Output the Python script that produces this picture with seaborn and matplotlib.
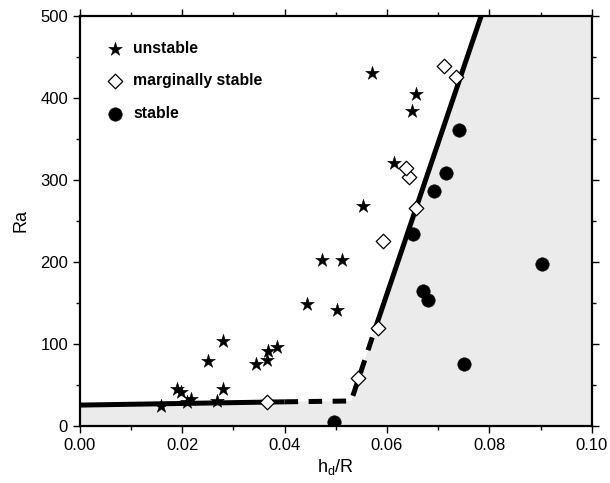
import matplotlib
matplotlib.use("Agg")
import matplotlib.pyplot as plt
import seaborn as sns
import pandas as pd
from matplotlib.ticker import MultipleLocator

# ---- data ----
unstable_x = [0.0158, 0.0189, 0.0197, 0.0209, 0.0217, 0.0250, 0.0267, 0.0280, 0.0280,
              0.0345, 0.0365, 0.0368, 0.0386, 0.0443, 0.0474, 0.0502, 0.0513, 0.0553,
              0.0570, 0.0613, 0.0648, 0.0656]
unstable_y = [24, 45, 42, 29, 32.5, 79, 30.5, 44.7, 103.7,
              75.6, 80.5, 91.5, 96.7, 148.8, 202.4, 141.5, 202.4, 268,
              430, 321, 384.5, 404.5]

marginal_x = [0.0365, 0.0544, 0.0583, 0.0593, 0.0657, 0.0643, 0.0638, 0.0711, 0.0735]
marginal_y = [29, 59, 120, 226, 266, 304, 314, 439, 426]

stable_x = [0.0496, 0.0650, 0.0671, 0.0681, 0.0692, 0.0715, 0.0741, 0.0750, 0.0902]
stable_y = [5, 234, 165, 154, 286, 309, 361, 75, 198]

# stability boundary
solid1_x = [0.0, 0.040]
solid1_y = [25.5, 29.5]
dash_x = [0.040, 0.053, 0.0575]
dash_y = [29.5, 30.5, 115]
solid2_x = [0.0575, 0.0784]
solid2_y = [115, 500]

# shaded stable region outline
region_x = [0.0, 0.0, 0.040, 0.053, 0.0575, 0.0784, 0.10, 0.10]
region_y = [0, 25.5, 29.5, 30.5, 115, 500, 500, 0]

sns.set_theme(style="ticks")
plt.rcParams['font.family'] = ['Liberation Sans', 'DejaVu Sans']
plt.rcParams['text.color'] = 'black'
plt.rcParams['axes.labelcolor'] = 'black'

fig = plt.figure(figsize=(6.10, 4.83), dpi=100)
ax = fig.add_axes([0.131, 0.118, 0.839, 0.849])

ax.fill(region_x, region_y, color="#ebebeb", lw=0, zorder=0)

lw = 3.6
sns.lineplot(x=solid1_x, y=solid1_y, sort=False, estimator=None, color="black", lw=lw, ax=ax,
             solid_capstyle="butt", zorder=2)
sns.lineplot(x=solid2_x, y=solid2_y, sort=False, estimator=None, color="black", lw=lw, ax=ax,
             solid_capstyle="butt", zorder=2)
sns.lineplot(x=dash_x, y=dash_y, sort=False, estimator=None, color="black", lw=lw, ax=ax,
             dashes=False, zorder=2).lines[-1].set_dashes((2.7, 2.1))
ax.lines[-1].set_dash_capstyle("butt")

sns.scatterplot(x=unstable_x, y=unstable_y, marker="*", s=110, color="black",
                edgecolor="black", linewidth=0.3, ax=ax, label="unstable", zorder=3)
sns.scatterplot(x=marginal_x, y=marginal_y, marker="D", s=55, facecolor="white",
                edgecolor="black", linewidth=0.9, ax=ax, label="marginally stable", zorder=3)
sns.scatterplot(x=stable_x, y=stable_y, marker="o", s=95, color="black",
                edgecolor="black", linewidth=0.3, ax=ax, label="stable", zorder=3)

ax.set_xlim(0, 0.10)
ax.set_ylim(0, 500)
ax.xaxis.set_major_locator(MultipleLocator(0.02))
ax.xaxis.set_minor_locator(MultipleLocator(0.01))
ax.yaxis.set_major_locator(MultipleLocator(100))
ax.yaxis.set_minor_locator(MultipleLocator(50))
ax.xaxis.set_major_formatter(matplotlib.ticker.FormatStrFormatter("%.2f"))
ax.tick_params(which="both", direction="out", top=True, right=True, width=1.0, color="black",
               labelsize=12, labelcolor="black")
ax.tick_params(which="major", length=5)
ax.tick_params(which="minor", length=3)
for sp in ax.spines.values():
    sp.set_visible(True)
    sp.set_linewidth(1.6)
    sp.set_color("black")

ax.set_xlabel("h$_\\mathregular{d}$/R", fontsize=13, labelpad=3, color="black")
ax.set_ylabel("Ra", fontsize=13, labelpad=8, color="black")

leg = ax.legend(loc="upper left", bbox_to_anchor=(0.038, 0.955), frameon=False,
                prop={"weight": "bold", "size": 11.3}, handletextpad=0.55,
                labelspacing=1.12, borderaxespad=0, handlelength=1.2, labelcolor="black")

fig.savefig("out.png", dpi=100)
